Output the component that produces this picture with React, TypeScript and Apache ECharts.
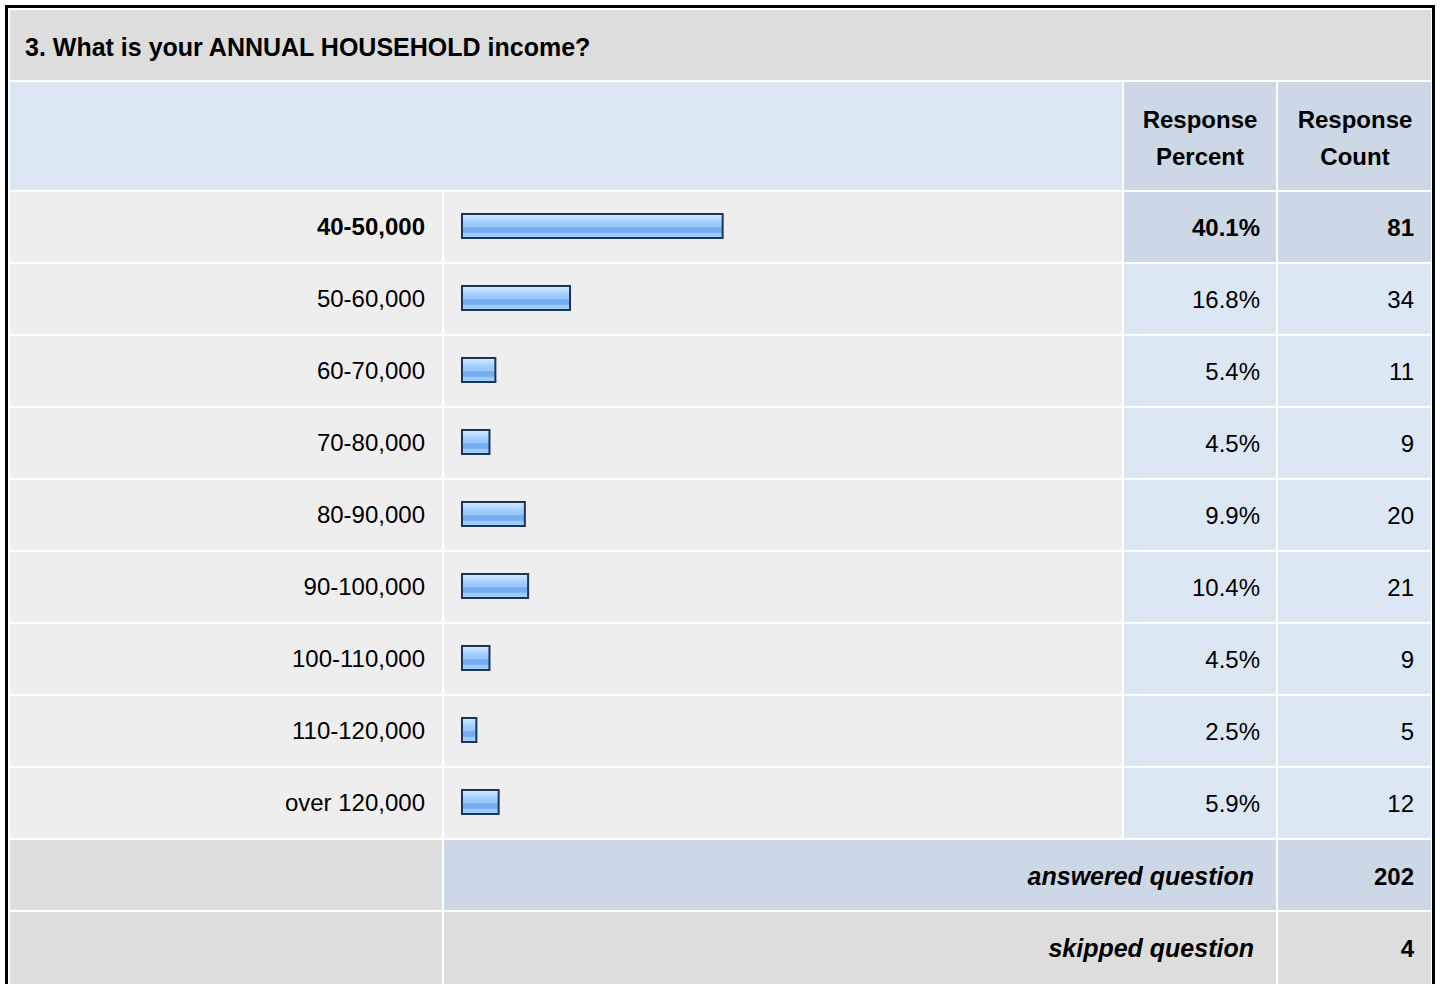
import React, { useEffect, useRef } from "react";
import * as echarts from "echarts";

const title = "3. What is your ANNUAL HOUSEHOLD income?";
const categories = [
  "40-50,000",
  "50-60,000",
  "60-70,000",
  "70-80,000",
  "80-90,000",
  "90-100,000",
  "100-110,000",
  "110-120,000",
  "over 120,000",
];
const percents = [40.1, 16.8, 5.4, 4.5, 9.9, 10.4, 4.5, 2.5, 5.9];
const counts = [81, 34, 11, 9, 20, 21, 9, 5, 12];
const answeredCount = 202;
const skippedCount = 4;
const headerPercent = ["Response", "Percent"];
const headerCount = ["Response", "Count"];

const FONT = '"Liberation Sans", Arial, sans-serif';
const C_TITLE = "#dddddd";
const C_ROW = "#eeeeee";
const C_LIGHT = "#dce7f4";
const C_DARK = "#ccd8e6";

const ROW_TOP = 192;
const ROW_STEP = 72;
const ROW_H = 70;

function txt(text: string, x: number, y: number, align: string, opts: any = {}) {
  const size = opts.size || 24;
  const weight = opts.bold ? "bold" : "normal";
  const style = opts.italic ? "italic" : "normal";
  return {
    type: "text",
    z: 5,
    style: {
      text,
      x,
      y,
      fill: "#000",
      font: `${style} ${weight} ${size}px ${FONT}`,
      fontSize: size,
      fontWeight: weight,
      fontStyle: style,
      fontFamily: FONT,
      align,
      textAlign: align,
      verticalAlign: "middle",
      textVerticalAlign: "middle",
    },
  };
}

function rect(x: number, y: number, w: number, h: number, fill: string) {
  return { type: "rect", z: 0, shape: { x, y, width: w, height: h }, style: { fill } };
}

export default function App() {
  const ref = useRef<HTMLDivElement>(null);
  useEffect(() => {
    if (!ref.current) return;
    const chart = echarts.init(ref.current, undefined, { renderer: "svg" });
    const maxIdx = percents.indexOf(Math.max(...percents));

    const els: any[] = [];
    // outer border
    els.push(rect(5, 5, 1430, 1000, "#000"));
    els.push(rect(8, 8, 1424, 1000, "#fff"));
    // title
    els.push(rect(10, 10, 1421, 70, C_TITLE));
    els.push(txt(title, 25, 47, "left", { bold: true, size: 25 }));
    // header row
    els.push(rect(10, 82, 1112, 108, C_LIGHT));
    els.push(rect(1124, 82, 152, 108, C_DARK));
    els.push(rect(1278, 82, 153, 108, C_DARK));
    els.push(txt(headerPercent[0], 1200, 119, "center", { bold: true }));
    els.push(txt(headerPercent[1], 1200, 156, "center", { bold: true }));
    els.push(txt(headerCount[0], 1355, 119, "center", { bold: true }));
    els.push(txt(headerCount[1], 1355, 156, "center", { bold: true }));
    // data rows
    categories.forEach((_, i) => {
      const y = ROW_TOP + ROW_STEP * i;
      const hi = i === maxIdx;
      els.push(rect(10, y, 432, ROW_H, C_ROW));
      els.push(rect(444, y, 678, ROW_H, C_ROW));
      els.push(rect(1124, y, 152, ROW_H, hi ? C_DARK : C_LIGHT));
      els.push(rect(1278, y, 153, ROW_H, hi ? C_DARK : C_LIGHT));
      els.push(txt(percents[i].toFixed(1) + "%", 1260, y + 35, "right", { bold: hi }));
      els.push(txt(String(counts[i]), 1414, y + 35, "right", { bold: hi }));
    });
    // answered
    const yA = ROW_TOP + ROW_STEP * categories.length;
    els.push(rect(10, yA, 432, ROW_H, C_TITLE));
    els.push(rect(444, yA, 832, ROW_H, C_DARK));
    els.push(rect(1278, yA, 153, ROW_H, C_DARK));
    els.push(txt("answered question", 1254, yA + 36, "right", { bold: true, italic: true, size: 25 }));
    els.push(txt(String(answeredCount), 1414, yA + 36, "right", { bold: true }));
    // skipped
    const yS = yA + ROW_STEP;
    els.push(rect(10, yS, 432, 100, C_TITLE));
    els.push(rect(444, yS, 832, 100, C_TITLE));
    els.push(rect(1278, yS, 153, 100, C_TITLE));
    els.push(txt("skipped question", 1254, yS + 36, "right", { bold: true, italic: true, size: 25 }));
    els.push(txt(String(skippedCount), 1414, yS + 36, "right", { bold: true }));

    chart.setOption({
      animation: false,
      backgroundColor: "#fff",
      graphic: { elements: els },
      grid: { left: 461, width: 655, top: 190, height: 648, containLabel: false },
      xAxis: {
        type: "value",
        min: 0,
        max: 100,
        show: false,
      },
      yAxis: {
        type: "category",
        inverse: true,
        z: 10,
        data: categories.map((c, i) => ({
          value: c,
          textStyle: { fontWeight: i === maxIdx ? "bold" : "normal" },
        })),
        axisLine: { show: false },
        axisTick: { show: false },
        splitLine: { show: false },
        axisLabel: {
          margin: 36,
          fontSize: 24,
          color: "#000",
          fontFamily: FONT,
          padding: [2, 0, 0, 0],
        },
      },
      series: [
        {
          type: "bar",
          z: 10,
          data: percents,
          barWidth: 26,
          itemStyle: {
            borderColor: "#1d3658",
            borderWidth: 2,
            color: {
              type: "linear",
              x: 0,
              y: 0,
              x2: 0,
              y2: 1,
              colorStops: [
                { offset: 0, color: "#d6ecff" },
                { offset: 0.15, color: "#bfe0ff" },
                { offset: 0.3, color: "#a6d2ff" },
                { offset: 0.52, color: "#96c8fc" },
                { offset: 0.58, color: "#78acee" },
                { offset: 0.76, color: "#78acee" },
                { offset: 0.8, color: "#95c7fc" },
                { offset: 1, color: "#a9d4ff" },
              ],
            },
          },
        },
      ],
    });
    return () => chart.dispose();
  }, []);
  return (
    <div
      ref={ref}
      style={{ position: "absolute", left: 0, top: 0, width: 1440, height: 984, background: "#fff" }}
    />
  );
}
